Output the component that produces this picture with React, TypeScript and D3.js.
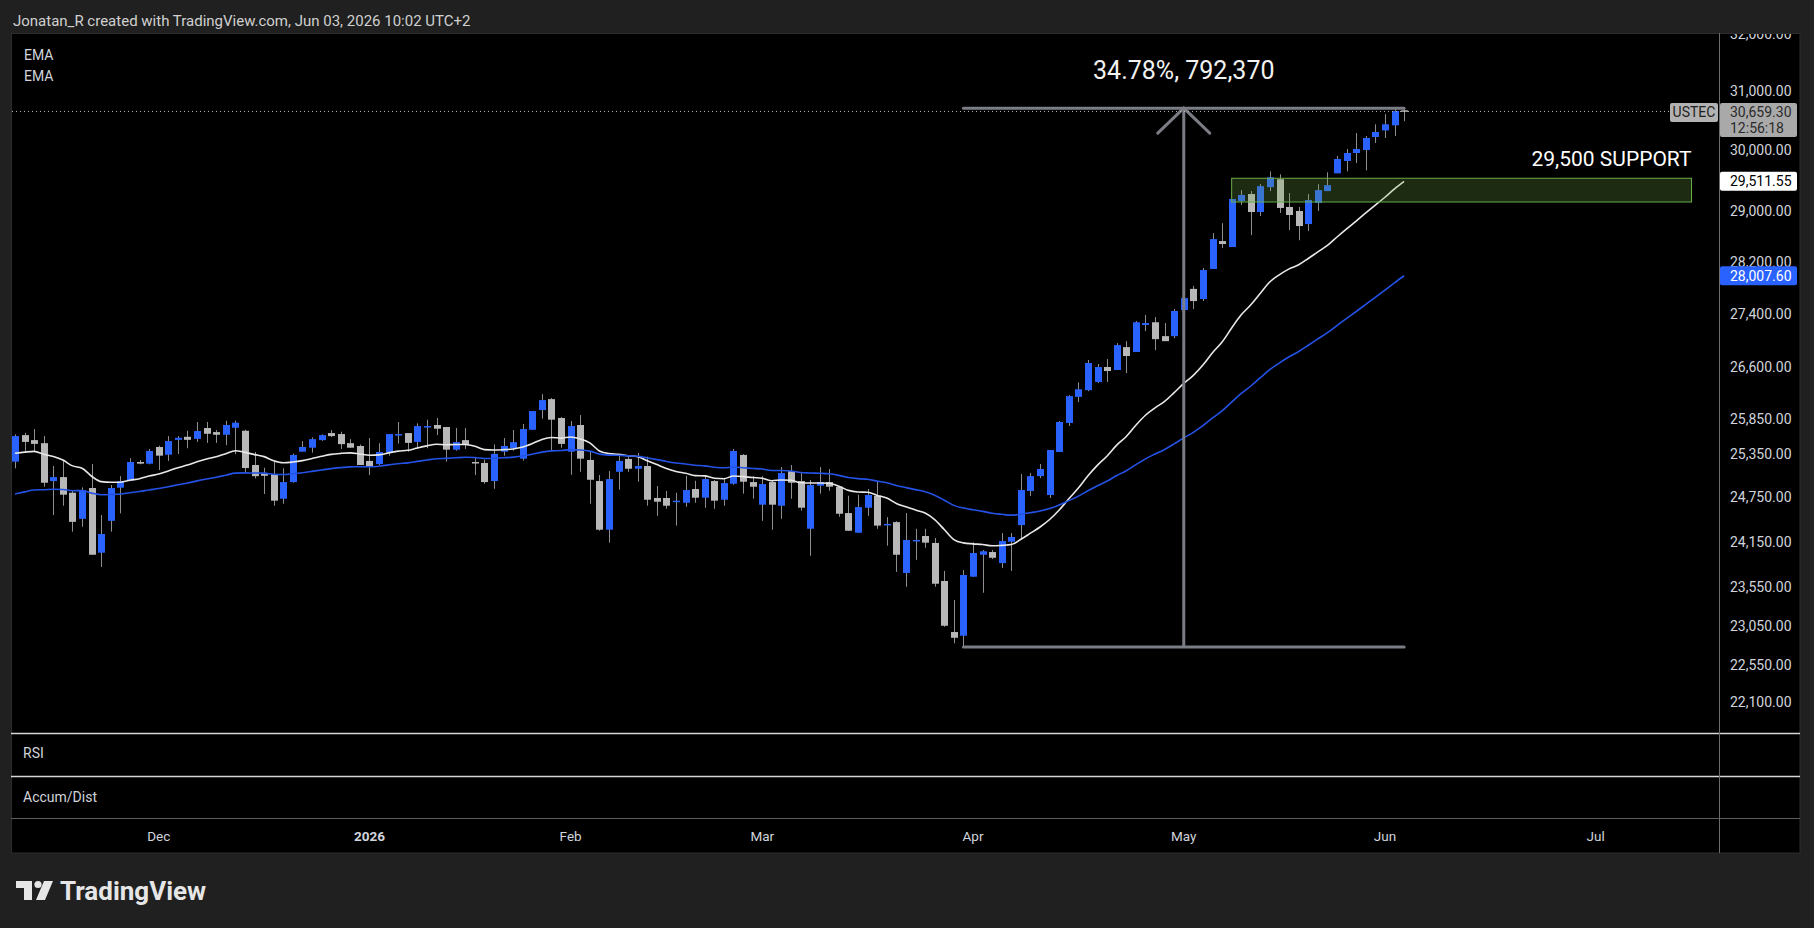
import { useEffect, useRef } from "react";
import * as d3 from "d3";

// daily USTEC candles, Nov 10 2025 -> Jun 03 2026
const opens = [25245, 25619, 25548, 25505, 24975, 25030, 24814, 24458, 24879, 24003, 24431, 24883, 24984, 25240, 25217, 25451, 25343, 25552, 25595, 25566, 25720, 25662, 25624, 25724, 25681, 25198, 25082, 25072, 24732, 24961, 25385, 25441, 25548, 25648, 25634, 25505, 25465, 25255, 25212, 25377, 25619, 25648, 25523, 25734, 25763, 25734, 25413, 25548, 25240, 25226, 24975, 25385, 25433, 25287, 25695, 25977, 26135, 25863, 25385, 25763, 25269, 24975, 24311, 25104, 25283, 25146, 25184, 24742, 24742, 24691, 24677, 24865, 24746, 24975, 24718, 24938, 25339, 24961, 24650, 24961, 24636, 25114, 24975, 24324, 24911, 24961, 24897, 24536, 24270, 24609, 24773, 24380, 24413, 23735, 24163, 24226, 24133, 23630, 22971, 22924, 23686, 23976, 24012, 23866, 24150, 24373, 24838, 25043, 24783, 25381, 25792, 26168, 26265, 26384, 26604, 26560, 26899, 26826, 27230, 27272, 27063, 27063, 27458, 27781, 27625, 28089, 28527, 28433, 29167, 29280, 28990, 29392, 29521, 29071, 29006, 28797, 29135, 29328, 29618, 29821, 29953, 30003, 30220, 30330, 30416, 30670];
const highs = [25630, 25652, 25705, 25605, 25184, 25259, 24847, 24888, 25212, 24509, 24920, 25043, 25292, 25269, 25423, 25469, 25605, 25605, 25681, 25806, 25806, 25691, 25824, 25824, 25695, 25381, 25160, 25245, 25152, 25357, 25534, 25587, 25630, 25691, 25667, 25562, 25487, 25577, 25505, 25634, 25806, 25648, 25787, 25839, 25863, 25734, 25720, 25720, 25306, 25273, 25487, 25577, 25691, 25777, 25963, 26207, 26150, 25877, 25820, 25906, 25395, 25058, 25114, 25329, 25339, 25367, 25315, 24906, 24838, 24814, 25048, 24979, 25058, 24989, 25002, 25423, 25353, 25043, 25043, 24979, 25170, 25198, 25100, 24989, 25170, 25142, 24906, 24773, 24787, 24865, 24966, 24481, 24426, 24536, 24324, 24324, 24200, 23762, 23382, 23774, 24142, 24039, 24039, 24266, 24266, 25072, 25086, 25212, 25409, 25820, 26193, 26379, 26708, 26649, 26722, 26958, 26988, 27291, 27382, 27351, 27260, 27473, 27766, 27827, 28104, 28652, 28811, 29199, 29344, 29328, 29440, 29650, 29602, 29296, 29071, 29280, 29440, 29634, 29904, 30020, 30286, 30236, 30433, 30605, 30706, 30700];
const lows = [25152, 25385, 25385, 24897, 24509, 24636, 24284, 24351, 23976, 23815, 24284, 24532, 24975, 25208, 25208, 25128, 25255, 25353, 25433, 25523, 25509, 25509, 25476, 25349, 25100, 25012, 24797, 24636, 24664, 24952, 25385, 25371, 25538, 25591, 25423, 25441, 25198, 25058, 25198, 25329, 25500, 25385, 25423, 25433, 25619, 25245, 25399, 25423, 25058, 24938, 24869, 25329, 25399, 25259, 25695, 25853, 25409, 25441, 25062, 25104, 24664, 24297, 24137, 24856, 25104, 24966, 24636, 24499, 24595, 24366, 24622, 24677, 24609, 24595, 24636, 24924, 24801, 24732, 24431, 24311, 24458, 24732, 24568, 23963, 24801, 24842, 24486, 24297, 24270, 24499, 24324, 24096, 23749, 23555, 23909, 24070, 23555, 23038, 22827, 22782, 23686, 23477, 23919, 23802, 23762, 24200, 24769, 25016, 24742, 25381, 25749, 26092, 26251, 26369, 26384, 26560, 26516, 26826, 27139, 26853, 26988, 27033, 27412, 27473, 27594, 28089, 28417, 28433, 29103, 28621, 28926, 29328, 28974, 28701, 28540, 28685, 29006, 29328, 29618, 29650, 29787, 29667, 30120, 30203, 30236, 30485];
const closes = [25605, 25523, 25495, 24952, 25030, 24787, 24417, 24851, 23976, 24253, 24879, 24971, 25240, 25217, 25395, 25329, 25534, 25581, 25552, 25677, 25638, 25624, 25763, 25796, 25156, 25043, 25048, 24705, 24961, 25339, 25451, 25562, 25619, 25605, 25491, 25441, 25198, 25175, 25381, 25634, 25634, 25509, 25748, 25748, 25710, 25413, 25519, 25481, 25231, 24961, 25353, 25465, 25519, 25705, 25963, 26121, 25839, 25495, 25748, 25287, 24993, 24311, 25002, 25255, 25146, 25184, 24718, 24691, 24636, 24705, 24851, 24746, 25002, 24705, 24947, 25395, 24966, 24897, 24934, 24650, 25086, 24952, 24609, 24920, 24961, 24897, 24527, 24297, 24618, 24783, 24366, 24389, 23976, 24173, 24173, 24137, 23594, 23051, 22898, 23708, 23999, 24022, 23936, 24159, 24213, 24851, 25043, 25142, 25409, 25806, 26178, 26278, 26663, 26604, 26545, 26929, 26767, 27272, 27260, 27018, 26988, 27443, 27640, 27594, 28073, 28558, 28480, 29199, 29264, 28990, 29408, 29553, 29055, 28942, 28765, 29183, 29344, 29424, 29854, 29953, 30020, 30203, 30304, 30433, 30657, 30659.3];

const firstDay = "2025-11-10";
const lastAxisDay = "2026-07-31";
const holidays = ["2025-12-25", "2026-01-01"];
const monthLabels = ["Dec", "2026", "Feb", "Mar", "Apr", "May", "Jun", "Jul"];

const priceTicks = [32000, 31000, 30000, 29000, 28200, 27400, 26600, 25850, 25350, 24750, 24150, 23550, 23050, 22550, 22100];

const emaLengths = [20, 50];
const emaSeeds = [25363, 24797];
const emaLastText = ["29,511.55", "28,007.60"];
const emaLastValue = [29511.55, 28007.6];

const lastPrice = 30659.3;
const lastPriceText = "30,659.30";
const countdown = "12:56:18";
const symbol = "USTEC";

const measureBars = [99, 145];
const measurePrices = [22782, 30706];
const measureText = "34.78%, 792,370";

const supportBars = [127, 175];
const supportPrices = [29151, 29537];
const supportText = "29,500 SUPPORT";

const header = "Jonatan_R created with TradingView.com, Jun 03, 2026 10:02 UTC+2";

const FONT = "Roboto, 'Liberation Sans', Arial, sans-serif";
const UP = "#2962ff";
const DOWN = "#b8b8b8";
const WICK = "#8e8e8e";
const TEXT = "#d1d4dc";

function ema(values: number[], len: number, seed: number) {
  const k = 2 / (len + 1);
  let prev = seed;
  return values.map((v, i) => (i === 0 ? seed : (prev = prev + k * (v - prev))));
}

export default function App() {
  const ref = useRef<SVGSVGElement>(null);
  useEffect(() => {
    if (!ref.current) return;
    const svg = d3.select(ref.current);
    svg.selectAll("*").remove();
    const W = 1814, H = 928;
    const pane = { left: 12, right: 1719, top: 33, bottom: 733 };
    const axisRight = 1800, panelBottom = 853;

    const x = d3.scaleLinear().domain([0, 1]).range([15, 24.58]);
    const y = d3.scaleLog().domain([31000, 22100]).range([91, 701.8]);

    // trading days for the axis
    const fmt = d3.utcFormat("%Y-%m-%d");
    const parse = d3.utcParse("%Y-%m-%d");
    const days = d3.utcDays(parse(firstDay)!, parse(lastAxisDay)!).filter(
      (d) => d.getUTCDay() % 6 !== 0 && !holidays.includes(fmt(d))
    );
    const monthStarts = days
      .map((d, i) => i)
      .filter((i) => i > 0 && days[i].getUTCMonth() !== days[i - 1].getUTCMonth());

    svg.append("rect").attr("width", W).attr("height", H).attr("fill", "#202020");
    svg.append("text").attr("x", 13).attr("y", 25.5).attr("font-family", FONT).attr("font-size", 15)
      .attr("fill", "#d0d0d0").text(header);

    svg.append("rect").attr("x", 11.5).attr("y", 33.5).attr("width", axisRight - 11.5).attr("height", panelBottom - 33.5)
      .attr("fill", "#000").attr("stroke", "#2c2c2c");

    const defs = svg.append("defs");
    defs.append("clipPath").attr("id", "pane").append("rect")
      .attr("x", pane.left).attr("y", pane.top).attr("width", pane.right - pane.left).attr("height", pane.bottom - pane.top);
    defs.append("clipPath").attr("id", "axis").append("rect")
      .attr("x", pane.right).attr("y", pane.top + 1).attr("width", axisRight - pane.right).attr("height", pane.bottom - pane.top);

    const g = svg.append("g").attr("clip-path", "url(#pane)");

    // legend
    ["EMA", "EMA"].forEach((t, i) => {
      svg.append("text").attr("x", 24).attr("y", 59.5 + i * 21).attr("font-family", FONT).attr("font-size", 14)
        .attr("fill", TEXT).text(t);
    });

    // candles
    const idx = d3.range(closes.length);
    const cg = g.append("g");
    idx.forEach((i) => {
      const cx = Math.round(x(i));
      const up = closes[i] >= opens[i];
      cg.append("rect").attr("x", cx).attr("width", 1)
        .attr("y", y(highs[i])).attr("height", Math.max(1, y(lows[i]) - y(highs[i]))).attr("fill", WICK);
      const top = y(Math.max(opens[i], closes[i]));
      const bot = y(Math.min(opens[i], closes[i]));
      cg.append("rect").attr("x", cx - 3).attr("width", 7)
        .attr("y", top).attr("height", Math.max(1.5, bot - top)).attr("fill", up ? UP : DOWN);
    });

    // EMAs
    const emaColors = ["#e8e8e8", "#2452e6"];
    emaLengths.forEach((len, k) => {
      const vals = ema(closes, len, emaSeeds[k]);
      const line = d3.line<number>().x((d, i) => x(i)).y((d) => y(d)).curve(d3.curveMonotoneX);
      g.append("path").datum(vals).attr("fill", "none").attr("stroke", emaColors[k])
        .attr("stroke-width", 1.6).attr("d", line);
    });

    // support zone
    const sTop = y(supportPrices[1]), sBot = y(supportPrices[0]);
    g.append("rect").attr("x", x(supportBars[0])).attr("y", sTop)
      .attr("width", x(supportBars[1]) - x(supportBars[0])).attr("height", sBot - sTop)
      .attr("fill", "rgba(110,170,70,0.25)").attr("stroke", "#69ad45").attr("stroke-width", 1);
    g.append("text").attr("x", x(supportBars[1])).attr("y", sTop - 12).attr("text-anchor", "end")
      .attr("font-family", FONT).attr("font-size", 21).attr("fill", "#ffffff").text(supportText);

    // measure tool
    const mx0 = x(measureBars[0]), mx1 = x(measureBars[1]);
    const mid = (mx0 + mx1) / 2;
    const yHi = y(measurePrices[1]), yLo = y(measurePrices[0]);
    const mcol = "#7b7d85";
    g.append("line").attr("x1", mx0).attr("x2", mx1).attr("y1", yHi).attr("y2", yHi)
      .attr("stroke", mcol).attr("stroke-width", 3).attr("stroke-linecap", "round");
    g.append("line").attr("x1", mx0).attr("x2", mx1).attr("y1", yLo).attr("y2", yLo)
      .attr("stroke", mcol).attr("stroke-width", 3).attr("stroke-linecap", "round");
    g.append("line").attr("x1", mid).attr("x2", mid).attr("y1", yLo).attr("y2", yHi)
      .attr("stroke", mcol).attr("stroke-width", 3);
    g.append("path").attr("d", `M${mid - 26},${yHi + 25}L${mid},${yHi}L${mid + 26},${yHi + 25}`)
      .attr("fill", "none").attr("stroke", mcol).attr("stroke-width", 3).attr("stroke-linecap", "round");
    g.append("text").attr("x", mid).attr("y", 79).attr("text-anchor", "middle").attr("font-family", FONT)
      .attr("font-size", 25).attr("fill", "#f2f2f2").text(measureText);

    // last price dotted line
    const yLast = y(lastPrice);
    svg.append("line").attr("x1", pane.left).attr("x2", 1670).attr("y1", yLast + 0.5).attr("y2", yLast + 0.5)
      .attr("stroke", "#bdbdbd").attr("stroke-dasharray", "1,3");

    // separators
    svg.append("line").attr("x1", 11).attr("x2", axisRight).attr("y1", 733.5).attr("y2", 733.5).attr("stroke", "#d6d6d6").attr("stroke-width", 1.5);
    svg.append("line").attr("x1", 11).attr("x2", axisRight).attr("y1", 776.5).attr("y2", 776.5).attr("stroke", "#d6d6d6").attr("stroke-width", 1.5);
    svg.append("line").attr("x1", 11).attr("x2", axisRight).attr("y1", 818.5).attr("y2", 818.5).attr("stroke", "#5e5e5e");
    svg.append("line").attr("x1", pane.right + 0.5).attr("x2", pane.right + 0.5).attr("y1", 33).attr("y2", panelBottom).attr("stroke", "#6b6b6b");

    svg.append("text").attr("x", 23).attr("y", 758).attr("font-family", FONT).attr("font-size", 14).attr("fill", TEXT).text("RSI");
    svg.append("text").attr("x", 23).attr("y", 802).attr("font-family", FONT).attr("font-size", 14).attr("fill", TEXT).text("Accum/Dist");

    // price axis
    const ax = svg.append("g").attr("clip-path", "url(#axis)");
    priceTicks.forEach((p) => {
      ax.append("text").attr("x", 1730).attr("y", y(p)).attr("dy", "0.35em").attr("font-family", FONT)
        .attr("font-size", 14).attr("fill", TEXT).text(d3.format(",.2f")(p));
    });

    // EMA badges
    const badgeColors = [["#ffffff", "#000000"], [UP, "#ffffff"]];
    emaLastValue.forEach((v, k) => {
      const yy = y(v);
      svg.append("rect").attr("x", pane.right + 1).attr("y", yy - 8).attr("width", 77).attr("height", 19).attr("rx", 2)
        .attr("fill", badgeColors[k][0]);
      svg.append("text").attr("x", 1730).attr("y", yy + 1.5).attr("dy", "0.35em").attr("font-family", FONT)
        .attr("font-size", 14).attr("fill", badgeColors[k][1]).text(emaLastText[k]);
    });

    // last price badge
    svg.append("rect").attr("x", 1670).attr("y", yLast - 8).attr("width", 48).attr("height", 19).attr("rx", 2).attr("fill", "#b2b2b2");
    svg.append("text").attr("x", 1694).attr("y", yLast + 1.5).attr("dy", "0.35em").attr("text-anchor", "middle")
      .attr("font-family", FONT).attr("font-size", 14).attr("fill", "#1e1e1e").text(symbol);
    svg.append("rect").attr("x", pane.right + 1).attr("y", yLast - 8).attr("width", 77).attr("height", 34).attr("rx", 2).attr("fill", "#a9a9a9");
    svg.append("text").attr("x", 1730).attr("y", yLast + 1).attr("dy", "0.35em").attr("font-family", FONT)
      .attr("font-size", 14).attr("fill", "#2b2b2b").text(lastPriceText);
    svg.append("text").attr("x", 1730).attr("y", yLast + 17).attr("dy", "0.35em").attr("font-family", FONT)
      .attr("font-size", 14).attr("fill", "#2b2b2b").text(countdown);

    // time axis
    monthStarts.forEach((i, k) => {
      svg.append("text").attr("x", x(i)).attr("y", 840.5).attr("text-anchor", "middle").attr("font-family", FONT)
        .attr("font-size", 13.5).attr("font-weight", monthLabels[k] === "2026" ? 700 : 400)
        .attr("fill", TEXT).text(monthLabels[k]);
    });

    // TradingView logo
    const logo = svg.append("g").attr("fill", "#e6e6e6");
    logo.append("path").attr("d", "M16,881H32V900H24V888H16Z");
    logo.append("circle").attr("cx", 38).attr("cy", 884.5).attr("r", 3.6);
    logo.append("path").attr("d", "M44,881H53L45,900H36Z");
    logo.append("text").attr("x", 60).attr("y", 900).attr("font-family", FONT).attr("font-size", 26)
      .attr("font-weight", 700).text("TradingView");
  }, []);
  return (
    <svg ref={ref} width={1814} height={928} style={{ position: "absolute", left: 0, top: 0, display: "block" }} />
  );
}
